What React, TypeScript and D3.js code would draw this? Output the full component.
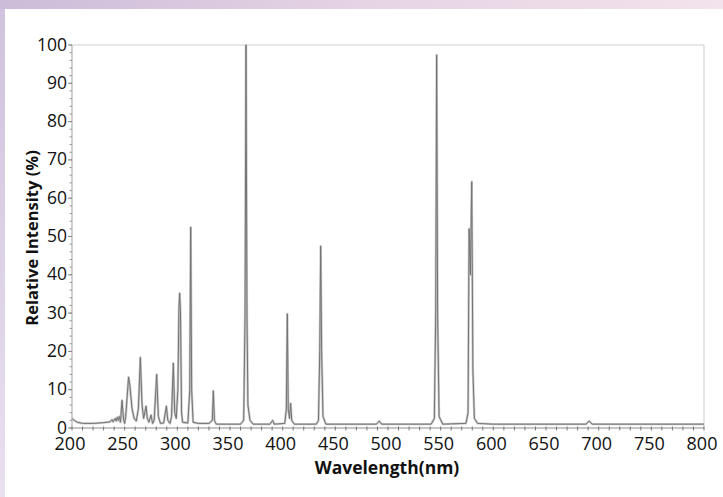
import React from "react";
import * as d3 from "d3";

const wavelengths: number[] = [
  200, 202, 205, 210, 220, 230, 236, 238, 239, 241, 242, 243, 244, 245, 246, 247.5, 249, 250, 251, 253.7,
  255, 257, 259, 261, 263, 264.9, 266.5, 268, 270.3, 271.5, 273, 275, 276.5, 278, 280.4, 282, 284, 287, 289.6, 291,
  293, 294.5, 296.2, 297.5, 299, 300.5, 301.5, 302.2, 303, 304, 305, 310, 311.8, 312.7, 313.6, 315, 320, 330, 333.2, 334.2,
  335.2, 337, 360, 363, 364.3, 365.2, 366.1, 367, 369, 372, 388, 390.5, 392, 402, 403.5, 404.4, 405.3, 406.5, 407.6, 408.6,
  411, 432, 434, 435.2, 436.1, 437, 438.3, 441, 489, 491.7, 494, 541, 544, 545.3, 546.2, 547.1, 548.5, 552,
  574, 576, 577, 578.2, 579.5, 580.6, 582, 585, 600, 688, 691, 694, 800,
];
const intensities: number[] = [
  2.6, 2.0, 1.5, 1.2, 1.2, 1.4, 1.6, 2.2, 1.6, 2.5, 1.8, 2.8, 2.0, 3.0, 1.5, 7.2, 2.0, 1.2, 3.0, 13.3,
  11, 5, 2.5, 1.8, 5, 18.4, 6, 2.5, 5.7, 2.5, 1.5, 3.4, 1.2, 2.0, 14, 3, 1.2, 1.3, 5.7, 2.0,
  1.2, 3, 16.9, 4, 2.5, 10, 31, 35.2, 30, 4, 1.5, 1.3, 10, 52.4, 10, 1.5, 1.2, 1.2, 2, 9.7,
  2, 1, 1, 2, 30, 100, 30, 6, 2, 1, 1, 2, 1, 1.2, 5, 29.8, 5, 2.5, 6.4, 2,
  1, 1, 2, 20, 47.5, 20, 3, 1, 1, 1.8, 1, 1, 2.5, 30, 97.4, 30, 3, 1,
  1.2, 4, 52, 40, 64.3, 15, 2.5, 1.2, 1, 1, 1.8, 1, 1,
];
const xTickValues: number[] = [200, 250, 300, 350, 400, 450, 500, 550, 600, 650, 700, 750, 800];
const yTickValues: number[] = [0, 10, 20, 30, 40, 50, 60, 70, 80, 90, 100];
const xTitle = "Wavelength(nm)";
const yTitle = "Relative Intensity (%)";

const W = 723;
const H = 497;
const left = 72;
const right = 704;
const top = 45;
const bottom = 428;

export default function App() {
  const x = d3.scaleLinear().domain([200, 800]).range([left, right]);
  const y = d3.scaleLinear().domain([0, 100]).range([bottom, top]);
  const pts: [number, number][] = wavelengths.map((w, i) => [w, intensities[i]]);
  const line = d3
    .line<[number, number]>()
    .x((d) => x(d[0]))
    .y((d) => y(d[1]));
  const path = line(pts) || "";
  const xMinor = d3.range(200, 801, 10);
  const yMinor = d3.range(0, 101, 2);
  const font = "'Open Sans', 'DejaVu Sans', sans-serif";

  return (
    <svg
      width={W}
      height={H}
      style={{ position: "absolute", left: 0, top: 0 }}
      xmlns="http://www.w3.org/2000/svg"
    >
      <defs>
        <linearGradient id="topg" x1="0" x2="1" y1="0" y2="0">
          <stop offset="0" stopColor="#cbbcd9" />
          <stop offset="0.5" stopColor="#e6d3e4" />
          <stop offset="1" stopColor="#f3e3ec" />
        </linearGradient>
        <linearGradient id="leftg" x1="0" x2="0" y1="0" y2="1">
          <stop offset="0" stopColor="#cfc2dd" />
          <stop offset="1" stopColor="#e8e0ef" />
        </linearGradient>
      </defs>
      <rect x={0} y={0} width={W} height={H} fill="url(#leftg)" />
      <rect x={0} y={0} width={W} height={9} fill="url(#topg)" />
      <rect x={5} y={9} width={W - 5} height={H - 9} fill="#ffffff" />

      {/* frame */}
      <line x1={left} x2={right} y1={top} y2={top} stroke="#d2d2d2" strokeWidth={1.2} />
      <line x1={right} x2={right} y1={top} y2={bottom} stroke="#d2d2d2" strokeWidth={1.2} />

      {/* spectrum */}
      <path d={path} fill="none" stroke="#c8c8c8" strokeWidth={2.4} strokeLinejoin="round" />
      <path d={path} fill="none" stroke="#747474" strokeWidth={1} strokeLinejoin="round" />

      {/* axes */}
      <line x1={left} x2={right} y1={bottom} y2={bottom} stroke="#8c8c8c" strokeWidth={1.2} />
      <line x1={left} x2={left} y1={top} y2={bottom} stroke="#b0b0b0" strokeWidth={1.2} />

      {xMinor.map((v) => (
        <line key={"xm" + v} x1={x(v)} x2={x(v)} y1={bottom - 1.5} y2={bottom + 2.5} stroke="#777" strokeWidth={1} />
      ))}
      {yMinor.map((v) => (
        <line key={"ym" + v} x1={left - 2.5} x2={left} y1={y(v)} y2={y(v)} stroke="#999" strokeWidth={1} />
      ))}
      {yTickValues.map((v) => (
        <line key={"yt" + v} x1={left - 4} x2={left} y1={y(v)} y2={y(v)} stroke="#888" strokeWidth={1} />
      ))}

      {xTickValues.map((v) => (
        <text
          key={"xl" + v}
          x={x(v) - 2}
          y={bottom + 22}
          textAnchor="middle"
          fontFamily={font}
          fontSize={18}
          fill="#111"
        >
          {v}
        </text>
      ))}
      {yTickValues.map((v) => (
        <text
          key={"yl" + v}
          x={left - 5}
          y={y(v) + 5.5}
          textAnchor="end"
          fontFamily={font}
          fontSize={17.5}
          fill="#111"
        >
          {v}
        </text>
      ))}

      <text
        x={387}
        y={474}
        textAnchor="middle"
        fontFamily={font}
        fontWeight="bold"
        fontSize={17.5}
        fill="#111"
      >
        {xTitle}
      </text>
      <text
        transform={`translate(38, 238) rotate(-90)`}
        textAnchor="middle"
        fontFamily={font}
        fontWeight="bold"
        fontSize={16.5}
        fill="#111"
      >
        {yTitle}
      </text>
    </svg>
  );
}
